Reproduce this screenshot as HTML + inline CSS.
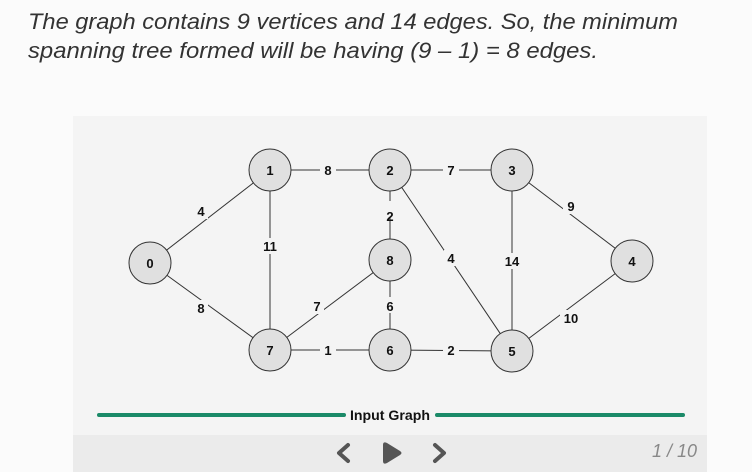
<!DOCTYPE html>
<html><head><meta charset="utf-8"><style>
html,body{margin:0;padding:0;background:#fbfbfb;}
svg{display:block}
</style></head><body>
<svg width="752" height="472" xmlns="http://www.w3.org/2000/svg" font-family="Liberation Sans, sans-serif">
<rect width="752" height="472" fill="#fbfbfb"/>
<g font-style="italic" font-size="22" fill="#333">
<text x="28" y="29" textLength="650" lengthAdjust="spacingAndGlyphs">The graph contains 9 vertices and 14 edges. So, the minimum</text>
<text x="28" y="58" textLength="570" lengthAdjust="spacingAndGlyphs">spanning tree formed will be having (9 – 1) = 8 edges.</text>
</g>
<rect x="73" y="116" width="634" height="320" fill="#f4f4f4"/>
<rect x="73" y="435" width="634" height="37" fill="#ebebeb"/>
<g stroke="#333" stroke-width="1">
<line x1="150" y1="263" x2="270" y2="170"/>
<line x1="150" y1="263" x2="270" y2="350"/>
<line x1="270" y1="170" x2="270" y2="350"/>
<line x1="270" y1="170" x2="390" y2="170"/>
<line x1="390" y1="170" x2="512" y2="170"/>
<line x1="390" y1="170" x2="390" y2="260"/>
<line x1="390" y1="170" x2="512" y2="351"/>
<line x1="512" y1="170" x2="632" y2="261"/>
<line x1="512" y1="170" x2="512" y2="351"/>
<line x1="390" y1="260" x2="270" y2="350"/>
<line x1="390" y1="260" x2="390" y2="350"/>
<line x1="270" y1="350" x2="390" y2="350"/>
<line x1="390" y1="350" x2="512" y2="351"/>
<line x1="512" y1="351" x2="632" y2="261"/>
</g>
<g font-weight="bold" font-size="13" fill="#111" text-anchor="middle">
<g fill="#f4f4f4"><rect x="194" y="203" width="14" height="16"/><rect x="194" y="300" width="14" height="16"/><rect x="259" y="238" width="22" height="16"/><rect x="320" y="162" width="16" height="16"/><rect x="443" y="162" width="16" height="16"/><rect x="383" y="201" width="14" height="16"/><rect x="444" y="250" width="14" height="16"/><rect x="500" y="253" width="24" height="16"/><rect x="563" y="198" width="16" height="16"/><rect x="310" y="298" width="14" height="16"/><rect x="383" y="297" width="14" height="16"/><rect x="320" y="342" width="16" height="16"/><rect x="443" y="342" width="16" height="16"/><rect x="560" y="310" width="24" height="16"/></g>
<text x="201" y="216">4</text><text x="201" y="313">8</text><text x="270" y="251">11</text>
<text x="328" y="175">8</text><text x="451" y="175">7</text><text x="390" y="221">2</text>
<text x="451" y="263">4</text><text x="512" y="266">14</text><text x="571" y="211">9</text>
<text x="317" y="311">7</text><text x="390" y="311">6</text><text x="328" y="355">1</text>
<text x="451" y="355">2</text><text x="571" y="323">10</text>
</g>
<g fill="#e0e0e0" stroke="#333" stroke-width="1">
<circle cx="150" cy="263" r="21"/><circle cx="270" cy="170" r="21"/><circle cx="390" cy="170" r="21"/>
<circle cx="512" cy="170" r="21"/><circle cx="390" cy="260" r="21"/><circle cx="632" cy="261" r="21"/>
<circle cx="270" cy="350" r="21"/><circle cx="390" cy="350" r="21"/><circle cx="512" cy="351" r="21"/>
</g>
<g font-weight="bold" font-size="13" fill="#111" text-anchor="middle">
<text x="150" y="268">0</text><text x="270" y="175">1</text><text x="390" y="175">2</text>
<text x="512" y="175">3</text><text x="390" y="265">8</text><text x="632" y="266">4</text>
<text x="270" y="355">7</text><text x="390" y="355">6</text><text x="512" y="356">5</text>
</g>
<line x1="99" y1="415" x2="344" y2="415" stroke="#1b8a68" stroke-width="4" stroke-linecap="round"/>
<line x1="437" y1="415" x2="683" y2="415" stroke="#1b8a68" stroke-width="4" stroke-linecap="round"/>
<text x="390" y="420" font-size="14" fill="#111" text-anchor="middle" font-weight="bold" textLength="80" lengthAdjust="spacingAndGlyphs">Input Graph</text>
<g fill="none" stroke="#555" stroke-width="4" stroke-linecap="round" stroke-linejoin="round">
<polyline points="348,445 339,453 348,461"/>
<polyline points="435,445 444,453 435,461"/>
</g>
<path d="M383,445 Q383,441 387,443 L400,451 Q403,453 400,455 L387,463 Q383,465 383,461 Z" fill="#555"/>
<text x="697" y="457" font-size="18" font-style="italic" fill="#888" text-anchor="end">1 / 10</text>
</svg>
</body></html>
